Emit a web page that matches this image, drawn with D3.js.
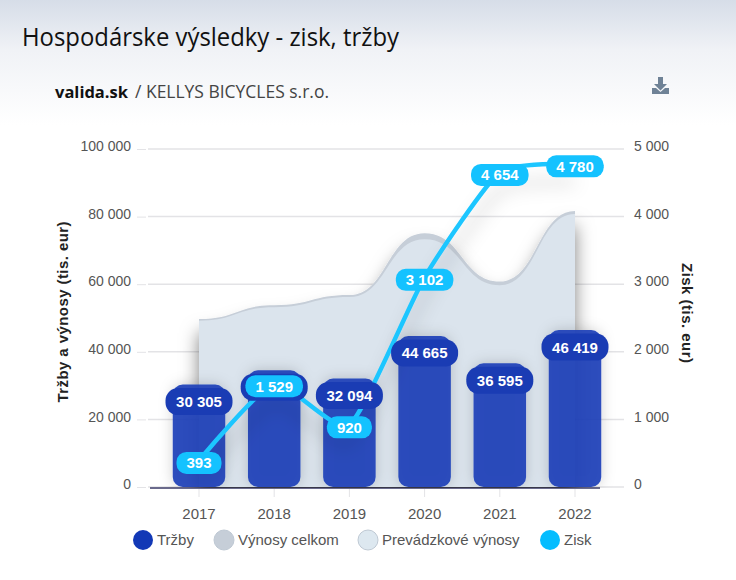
<!DOCTYPE html>
<html>
<head>
<meta charset="utf-8">
<script src="https://cdn.jsdelivr.net/npm/d3@7"></script>
<style>
  html, body { margin: 0; padding: 0; background: #fff; }
  svg { display: block; }
  text { font-family: "Liberation Sans", Arial, sans-serif; }
</style>
</head>
<body>
<svg id="chart" width="736" height="580"></svg>
<script>
const years = ["2017", "2018", "2019", "2020", "2021", "2022"];
const trzby = [30305, 34517, 32094, 44665, 36595, 46419];
const vynosyCelkom = [49700, 53800, 56800, 75100, 60800, 81650];
const prevadzkoveVynosy = [49200, 53200, 56200, 73300, 59700, 80800];
const zisk = [393, 1529, 920, 3102, 4654, 4780];
const leftTicks = [0, 20000, 40000, 60000, 80000, 100000];
const rightTicks = [0, 1000, 2000, 3000, 4000, 5000];
const legendNames = ["Tržby", "Výnosy celkom", "Prevádzkové výnosy", "Zisk"];
const legendColors = ["#1238b6", "#c6ced8", "#dde8f0", "#04bdff"];

const svg = d3.select("#chart");
const defs = svg.append("defs");

const fmt = d3.formatLocale({ decimal: ",", thousands: " ", grouping: [3], currency: ["", ""] }).format(",d");

// page background fades out below the header
const bg = defs.append("linearGradient").attr("id", "bg").attr("x1", 0).attr("y1", 0).attr("x2", 0).attr("y2", 1);
bg.append("stop").attr("offset", 0).attr("stop-color", "#d6dde8");
bg.append("stop").attr("offset", 0.4).attr("stop-color", "#f0f2f6");
bg.append("stop").attr("offset", 1).attr("stop-color", "#ffffff");

function addShadow(id, dy, blur, opacity) {
  defs.append("filter").attr("id", id)
    .attr("filterUnits", "userSpaceOnUse")
    .attr("x", 0).attr("y", 0).attr("width", 736).attr("height", 580)
    .append("feDropShadow").attr("dx", 0).attr("dy", dy).attr("stdDeviation", blur)
    .attr("flood-color", "#000").attr("flood-opacity", opacity);
}
addShadow("areaShadow", 14, 9, 0.5);
addShadow("lineShadow", 18, 9, 0.22);
addShadow("barShadow", 0, 7, 0.2);

defs.append("clipPath").attr("id", "plotClip")
  .append("rect").attr("x", 0).attr("y", 0).attr("width", 736).attr("height", 488);

svg.append("rect").attr("width", 736).attr("height", 125).attr("fill", "url(#bg)");

svg.append("text").attr("x", 22).attr("y", 46)
  .attr("textLength", 377).attr("lengthAdjust", "spacingAndGlyphs")
  .style("font-family", "'Open Sans'").style("font-size", "25px").attr("fill", "#111")
  .text("Hospodárske výsledky - zisk, tržby");

svg.append("text").attr("x", 55).attr("y", 98).attr("font-weight", 700)
  .style("font-family", "'Open Sans'").style("font-size", "16.5px").attr("fill", "#111")
  .text("valida.sk");
svg.append("text").attr("x", 135).attr("y", 98)
  .attr("textLength", 194).attr("lengthAdjust", "spacingAndGlyphs")
  .style("font-family", "'Open Sans'").style("font-size", "17.5px").attr("fill", "#444")
  .text("/ KELLYS BICYCLES s.r.o.");

// download icon
svg.append("path").attr("fill", "#6f8296")
  .attr("d", "M658 77h5v7h4l-6.500 6.500l-6.500-6.500h4z M652 88h4l4.500 4l4.500-4h4v6h-17z");

const x = d3.scaleBand().domain(years).range([161.4, 612.6]);
const yLeft = d3.scaleLinear().domain([0, 100000]).range([487, 149]);
const yRight = d3.scaleLinear().domain([0, 5000]).range([487, 149]);
const cx = d => x(d) + x.bandwidth() / 2;

// grid
svg.append("g").selectAll("line").data(leftTicks).join("line")
  .attr("x1", 148).attr("x2", 624)
  .attr("y1", d => yLeft(d)).attr("y2", d => yLeft(d))
  .attr("stroke", "#e3e3e6").attr("stroke-width", 1.5);

// axes
const axisL = svg.append("g").attr("transform", "translate(146,0)")
  .call(d3.axisLeft(yLeft).tickValues(leftTicks).tickFormat(fmt).tickSize(9).tickPadding(6));
const axisR = svg.append("g").attr("transform", "translate(628,0)")
  .call(d3.axisRight(yRight).tickValues(rightTicks).tickFormat(fmt).tickSize(0).tickPadding(6));
const axisX = svg.append("g").attr("transform", "translate(0,489)")
  .call(d3.axisBottom(x).tickSize(8).tickPadding(11));
[axisL, axisR, axisX].forEach(a => {
  a.select(".domain").remove();
  a.selectAll("text").attr("fill", "#555").style("font-size", "14px")
    .style("font-family", "'Liberation Sans', Arial, sans-serif");
  a.selectAll("line").attr("stroke", "#e3e3e6");
});
axisL.selectAll("text").attr("dy", "0.12em");
axisR.selectAll("text").attr("dy", "0.12em");
axisX.selectAll("text").style("font-size", "15px");

svg.append("line").attr("x1", 150).attr("x2", 600).attr("y1", 488).attr("y2", 488)
  .attr("stroke", "#6a6a8c").attr("stroke-width", 2);

svg.append("text").attr("transform", "translate(68,312) rotate(-90)").attr("text-anchor", "middle")
  .attr("font-weight", 700).attr("textLength", 181).attr("lengthAdjust", "spacing")
  .style("font-size", "15px").attr("fill", "#222").text("Tržby a výnosy (tis. eur)");
svg.append("text").attr("transform", "translate(682,313) rotate(90)").attr("text-anchor", "middle")
  .attr("font-weight", 700).attr("textLength", 100).attr("lengthAdjust", "spacing")
  .style("font-size", "15px").attr("fill", "#222").text("Zisk (tis. eur)");

// areas
const plot = svg.append("g").attr("clip-path", "url(#plotClip)");
const area = d3.area().x(d => cx(d.year)).y0(yLeft(0)).y1(d => yLeft(d.value)).curve(d3.curveBumpX);
const toPts = vals => years.map((year, i) => ({ year, value: vals[i] }));

plot.append("path").datum(toPts(vynosyCelkom)).attr("d", area)
  .attr("fill", "#c6ced8").attr("filter", "url(#areaShadow)");
plot.append("path").datum(toPts(prevadzkoveVynosy)).attr("d", area)
  .attr("fill", "#dbe4ed");

// bars
const barW = 52.5;
plot.append("g").attr("filter", "url(#barShadow)")
  .selectAll("rect").data(toPts(trzby)).join("rect")
  .attr("x", d => cx(d.year) - barW / 2)
  .attr("width", barW)
  .attr("y", d => yLeft(d.value))
  .attr("height", d => yLeft(0) - yLeft(d.value))
  .attr("rx", 10)
  .attr("fill", "#1c40b8").attr("fill-opacity", 0.92);

// pills
function pills(points, yPos, h, pad, minW, fill) {
  const g = svg.append("g").selectAll("g").data(points).join("g")
    .attr("transform", d => `translate(${cx(d.year)},${yPos(d.value)})`);
  const rects = g.append("rect");
  const labels = g.append("text").attr("text-anchor", "middle").attr("dy", "0.36em")
    .attr("font-weight", 700).style("font-size", "15px").attr("fill", "#fff")
    .text(d => fmt(d.value));
  rects.each(function (d, i) {
    const w = Math.max(minW, labels.nodes()[i].getComputedTextLength() + pad);
    d3.select(this).attr("x", -w / 2).attr("y", -h / 2).attr("width", w).attr("height", h)
      .attr("rx", h / 2 - 1).attr("fill", fill);
  });
}

pills(toPts(trzby), d => yLeft(d) + 17, 27, 20, 67, "#1a3cb4");

// profit line
const line = d3.line().x(d => cx(d.year)).y(d => yRight(d.value)).curve(d3.curveCardinal.tension(0.45));
plot.append("path").datum(toPts(zisk)).attr("d", line)
  .attr("fill", "none").attr("stroke", "#1fc6ff").attr("stroke-width", 4.5)
  .attr("filter", "url(#lineShadow)");

pills(toPts(zisk), d => yRight(d) + 2.5, 22, 20, 44, "#14c2ff");

// legend
const legendX = [143, 224, 368, 550];
const legend = svg.append("g").selectAll("g").data(legendNames).join("g")
  .attr("transform", (d, i) => `translate(${legendX[i]},540)`);
legend.append("circle").attr("r", 10)
  .attr("fill", (d, i) => legendColors[i])
  .attr("stroke", (d, i) => (i === 1 || i === 2) ? "#bfc9d4" : "none");
legend.append("text").attr("x", 14).attr("dy", "0.35em")
  .style("font-size", "15px").attr("fill", "#555").text(d => d);
</script>
</body>
</html>
